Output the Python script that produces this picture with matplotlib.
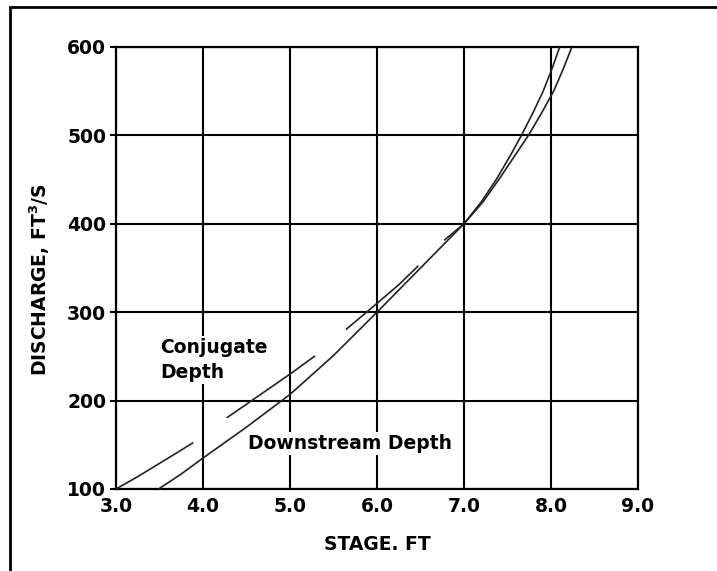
import matplotlib
matplotlib.use("Agg")
import matplotlib.pyplot as plt
from matplotlib.patches import Rectangle

# ===== 데이터 =====
# Downstream Depth 곡선 (연속선)
down_stage = [3.49, 3.75, 4.0, 4.5, 5.0, 5.5, 6.0, 6.5, 7.0, 7.2, 7.37,
              7.52, 7.66, 7.79, 7.91, 8.01, 8.10]
down_q = [100, 117, 135, 170, 207, 251, 300, 350, 400, 425, 450,
          475, 500, 525, 550, 575, 600]

# Conjugate Depth 곡선 (끊어진 선 - 구간별)
conj_seg1_stage = [3.0, 3.25, 3.5, 3.7, 3.88]
conj_seg1_q = [100, 114, 129, 141, 152]
conj_seg2_stage = [4.28, 4.56, 5.0, 5.28]
conj_seg2_q = [181, 200, 230, 250]
conj_seg3_stage = [5.65, 5.88, 6.0, 6.25, 6.47]
conj_seg3_q = [281, 300, 310, 331, 352]
conj_seg4_stage = [6.78, 7.0, 7.22, 7.40, 7.57, 7.74, 7.89, 8.03, 8.14, 8.24]
conj_seg4_q = [382, 400, 425, 450, 475, 500, 525, 550, 575, 600]

x_ticks = [3.0, 4.0, 5.0, 6.0, 7.0, 8.0, 9.0]
y_ticks = [100, 200, 300, 400, 500, 600]

# ===== 글꼴 설정 =====
plt.rcParams['font.family'] = 'DejaVu Sans'
plt.rcParams['font.weight'] = 'bold'
plt.rcParams['mathtext.fontset'] = 'dejavusans'
plt.rcParams['mathtext.default'] = 'bf'

fig = plt.figure(figsize=(7.17, 5.71), dpi=100)
ax = fig.add_axes([116 / 717, 1 - 489 / 571, 522 / 717, 442 / 571])

# 바깥 테두리 (오른쪽/아래는 그림 밖으로 나감)
fig.patches.append(Rectangle((10 / 717, -0.1), 1.2, 1.1 - 7 / 571,
                             transform=fig.transFigure, fill=False,
                             edgecolor='black', linewidth=2.0))

# 격자
ax.set_xlim(3.0, 9.0)
ax.set_ylim(100, 600)
ax.set_xticks(x_ticks)
ax.set_yticks(y_ticks)
ax.set_xticklabels([f"{v:.1f}" for v in x_ticks])
ax.set_yticklabels([str(v) for v in y_ticks])
ax.grid(True, color='black', linewidth=1.5, zorder=0)
ax.set_axisbelow(True)
for s in ax.spines.values():
    s.set_linewidth(1.6)
ax.tick_params(axis='x', length=0, pad=6, labelsize=13.5)
ax.tick_params(axis='y', length=4, width=1.5, direction='out', pad=3, labelsize=13.5)

# 곡선
line_kw = dict(color='#222222', linewidth=1.2, zorder=3)
ax.plot(down_stage, down_q, **line_kw)
for st, q in [(conj_seg1_stage, conj_seg1_q), (conj_seg2_stage, conj_seg2_q),
              (conj_seg3_stage, conj_seg3_q), (conj_seg4_stage, conj_seg4_q)]:
    ax.plot(st, q, **line_kw)

# 라벨 (흰 배경으로 격자를 가림)
box = dict(facecolor='white', edgecolor='none', pad=1.5)
ax.text(3.51, 246, "Conjugate\nDepth", ha='left', va='center', fontsize=13.5,
        fontweight='bold', linespacing=1.35, bbox=box, zorder=2)
ax.text(5.69, 151, "Downstream Depth", ha='center', va='center', fontsize=13.5,
        fontweight='bold', bbox=box, zorder=2)

# 축 제목
fig.text(377 / 717, 1 - 544 / 571, "STAGE. FT", ha='center', va='center',
         fontsize=13.5, fontweight='bold')
fig.text(40 / 717, 1 - 280 / 571, "DISCHARGE, FT$^3$/S", ha='center', va='center',
         rotation=90, fontsize=13.5, fontweight='bold')

fig.savefig("out.png", dpi=100)
